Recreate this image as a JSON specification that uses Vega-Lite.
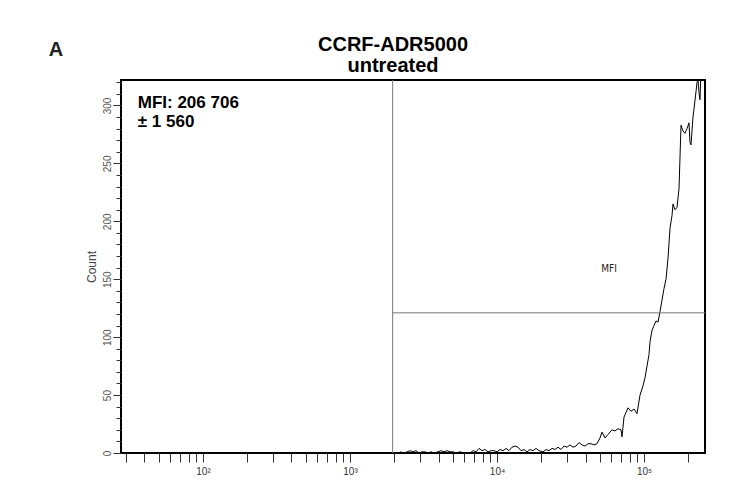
{
  "$schema": "https://vega.github.io/schema/vega-lite/v6.json",
  "autosize": "none",
  "width": 584,
  "height": 373,
  "padding": {"left": 121, "top": 80, "right": 44, "bottom": 40},
  "background": "white",
  "config": {
    "view": {"stroke": "black", "strokeWidth": 2},
    "font": "Liberation Sans"
  },
  "resolve": {"axis": {"y": "independent"}},
  "datasets": {
    "hist": [
      {"v": 2200, "c": 1}, {"v": 2330, "c": 0}, {"v": 2440, "c": 1}, {"v": 2559, "c": 2},
      {"v": 2680, "c": 1}, {"v": 2812, "c": 2}, {"v": 2950, "c": 0}, {"v": 3090, "c": 1},
      {"v": 3237, "c": 1}, {"v": 3390, "c": 0}, {"v": 3555, "c": 1}, {"v": 3720, "c": 0},
      {"v": 3960, "c": 1}, {"v": 4160, "c": 2}, {"v": 4360, "c": 1}, {"v": 4570, "c": 2},
      {"v": 4788, "c": 1}, {"v": 5020, "c": 1}, {"v": 5260, "c": 0}, {"v": 5600, "c": 1},
      {"v": 6057, "c": 0}, {"v": 6550, "c": 0}, {"v": 6870, "c": 2}, {"v": 7200, "c": 1},
      {"v": 7540, "c": 4}, {"v": 7900, "c": 2}, {"v": 8284, "c": 3}, {"v": 8680, "c": 1},
      {"v": 9100, "c": 2}, {"v": 9540, "c": 2}, {"v": 10000, "c": 1}, {"v": 10477, "c": 3},
      {"v": 10980, "c": 2}, {"v": 11510, "c": 4}, {"v": 12060, "c": 2}, {"v": 12640, "c": 5},
      {"v": 13251, "c": 6}, {"v": 13890, "c": 5}, {"v": 14560, "c": 2}, {"v": 15260, "c": 3},
      {"v": 15990, "c": 1}, {"v": 16760, "c": 3}, {"v": 17570, "c": 2}, {"v": 18420, "c": 4},
      {"v": 19300, "c": 2}, {"v": 20550, "c": 1}, {"v": 21540, "c": 3}, {"v": 22560, "c": 2},
      {"v": 23650, "c": 4}, {"v": 24789, "c": 3}, {"v": 25980, "c": 5}, {"v": 27230, "c": 3},
      {"v": 28540, "c": 6}, {"v": 29920, "c": 5}, {"v": 31352, "c": 7}, {"v": 32860, "c": 5},
      {"v": 34440, "c": 6}, {"v": 36100, "c": 9}, {"v": 37840, "c": 7}, {"v": 39652, "c": 6},
      {"v": 41560, "c": 8}, {"v": 43560, "c": 8}, {"v": 45650, "c": 7}, {"v": 47850, "c": 8},
      {"v": 50151, "c": 13}, {"v": 51750, "c": 18}, {"v": 54235, "c": 13}, {"v": 56840, "c": 16},
      {"v": 60410, "c": 20}, {"v": 63428, "c": 19}, {"v": 66480, "c": 21}, {"v": 69680, "c": 20},
      {"v": 70780, "c": 14}, {"v": 73020, "c": 31}, {"v": 75350, "c": 35}, {"v": 77750, "c": 39},
      {"v": 81490, "c": 36}, {"v": 85410, "c": 38}, {"v": 89520, "c": 34}, {"v": 93819, "c": 50},
      {"v": 98330, "c": 58}, {"v": 101460, "c": 65}, {"v": 104690, "c": 75}, {"v": 108020, "c": 85},
      {"v": 109722, "c": 96}, {"v": 113220, "c": 106}, {"v": 116820, "c": 110}, {"v": 120540, "c": 114},
      {"v": 124380, "c": 113}, {"v": 128321, "c": 122}, {"v": 132410, "c": 132}, {"v": 136620, "c": 142},
      {"v": 140970, "c": 150}, {"v": 145460, "c": 168}, {"v": 150072, "c": 194}, {"v": 154850, "c": 205},
      {"v": 157300, "c": 215}, {"v": 162293, "c": 210}, {"v": 167460, "c": 212}, {"v": 172790, "c": 228},
      {"v": 178290, "c": 283}, {"v": 183970, "c": 278}, {"v": 189803, "c": 276}, {"v": 195850, "c": 280},
      {"v": 202080, "c": 285}, {"v": 205260, "c": 268}, {"v": 208510, "c": 266}, {"v": 215120, "c": 290},
      {"v": 218520, "c": 297}, {"v": 225480, "c": 312}, {"v": 229040, "c": 320}, {"v": 232650, "c": 322},
      {"v": 236320, "c": 311}, {"v": 240053, "c": 305}, {"v": 243840, "c": 330}
    ],
    "one": [{}]
  },
  "layer": [
    {
      "data": {"name": "hist"},
      "mark": {"type": "line", "color": "black", "strokeWidth": 1, "clip": true},
      "encoding": {
        "x": {
          "field": "v", "type": "quantitative",
          "scale": {"type": "log", "domain": [27.7, 259600], "nice": false},
          "axis": {
            "title": null,
            "values": [30, 40, 50, 60, 70, 80, 90, 100, 200, 300, 400, 500, 600, 700, 800, 900, 1000, 2000, 3000, 4000, 5000, 6000, 7000, 8000, 9000, 10000, 20000, 30000, 40000, 50000, 60000, 70000, 80000, 90000, 100000, 200000],
            "labelExpr": "datum.value == 100 ? '10²' : datum.value == 1000 ? '10³' : datum.value == 10000 ? '10⁴' : datum.value == 100000 ? '10⁵' : ''",
            "labelOverlap": false,
            "grid": false, "domain": false, "tickColor": "#333", "tickSize": 9, "tickWidth": 1,
            "labelFontSize": 10, "labelColor": "#333", "labelPadding": 4, "labelFont": "Liberation Sans"
          }
        },
        "y": {
          "field": "c", "type": "quantitative",
          "scale": {"domain": [0, 322], "nice": false, "zero": true},
          "axis": {
            "orient": "left",
            "title": "Count", "titleFontWeight": "normal", "titleFontSize": 12, "titleColor": "#444",
            "titlePadding": 4, "titleFont": "Liberation Sans",
            "values": [0, 50, 100, 150, 200, 250, 300],
            "labelOverlap": false,
            "labelFlush": false,
            "labelAngle": 270, "labelAlign": "center", "labelBaseline": "bottom",
            "labelFontSize": 10, "labelColor": "#555", "labelPadding": 1,
            "grid": false, "domain": false, "tickColor": "#333", "tickSize": 8, "labelFont": "Liberation Sans"
          }
        }
      }
    },
    {
      "data": {"name": "hist"},
      "mark": {"type": "line", "strokeOpacity": 0},
      "encoding": {
        "x": {"field": "v", "type": "quantitative"},
        "y": {
          "field": "c", "type": "quantitative",
          "axis": {
            "orient": "left",
            "title": null,
            "values": [10, 20, 30, 40, 60, 70, 80, 90, 110, 120, 130, 140, 160, 170, 180, 190, 210, 220, 230, 240, 260, 270, 280, 290, 310, 320],
            "labels": false,
            "grid": false, "domain": false, "tickColor": "#333", "tickSize": 5
          }
        }
      }
    },
    {
      "data": {"name": "one"},
      "mark": {"type": "rule", "color": "#777", "strokeWidth": 1},
      "encoding": {
        "x": {"datum": 1950, "type": "quantitative"}
      }
    },
    {
      "data": {"name": "one"},
      "mark": {"type": "rule", "color": "#777", "strokeWidth": 1},
      "encoding": {
        "x": {"datum": 1950, "type": "quantitative"},
        "x2": {"datum": 259600},
        "y": {"datum": 121, "type": "quantitative", "axis": null}
      }
    },
    {
      "data": {"name": "one"},
      "mark": {"type": "text", "align": "left", "baseline": "middle", "fontSize": 17, "fontWeight": "bold", "color": "black", "lineHeight": 19, "font": "Liberation Sans"},
      "encoding": {
        "x": {"datum": 36, "type": "quantitative"},
        "y": {"datum": 302, "type": "quantitative", "axis": null},
        "text": {"value": ["MFI: 206 706", "± 1 560"]}
      }
    },
    {
      "data": {"name": "one"},
      "mark": {"type": "text", "align": "center", "baseline": "middle", "fontSize": 10, "color": "#222", "font": "DejaVu Sans Condensed"},
      "encoding": {
        "x": {"datum": 57800, "type": "quantitative"},
        "y": {"datum": 159, "type": "quantitative", "axis": null},
        "text": {"value": "MFI"}
      }
    },
    {
      "data": {"name": "one"},
      "mark": {"type": "text", "align": "center", "baseline": "middle", "fontSize": 20, "fontWeight": "bold", "color": "black", "lineHeight": 21, "clip": false, "font": "Liberation Sans"},
      "encoding": {
        "x": {"datum": 1961, "type": "quantitative"},
        "y": {"datum": 352, "type": "quantitative", "axis": null},
        "text": {"value": ["CCRF-ADR5000", "untreated"]}
      }
    },
    {
      "data": {"name": "one"},
      "mark": {"type": "text", "align": "center", "baseline": "middle", "fontSize": 20, "fontWeight": "bold", "color": "#222", "clip": false, "font": "Liberation Sans"},
      "encoding": {
        "x": {"datum": 10, "type": "quantitative"},
        "y": {"datum": 348, "type": "quantitative", "axis": null},
        "text": {"value": "A"}
      }
    }
  ]
}
